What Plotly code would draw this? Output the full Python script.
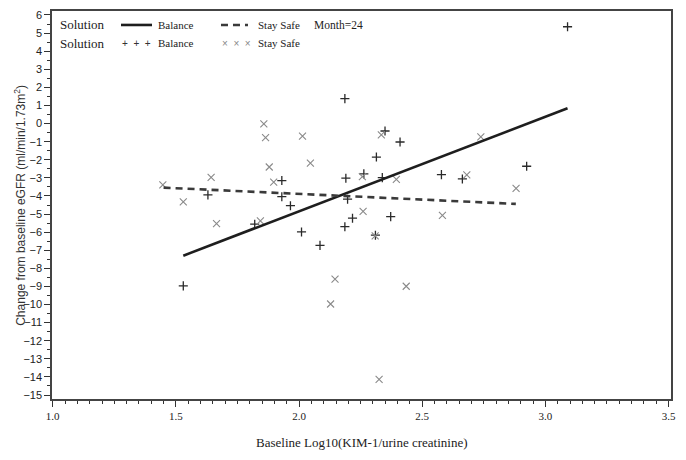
import plotly.graph_objects as go

# Balance group (+ markers)
bal_x = [1.53, 1.63, 1.82, 1.93, 1.93, 1.965, 2.01, 2.085, 2.186, 2.19, 2.263, 2.314,
         2.349, 2.41, 2.197, 2.217, 2.372, 2.186, 2.31, 2.578, 2.663, 2.924, 3.09, 2.338]
bal_y = [-8.97, -3.94, -5.56, -3.15, -4.04, -4.54, -5.99, -6.73, 1.38, -3.02, -2.78, -1.85,
         -0.41, -1.02, -4.18, -5.23, -5.14, -5.70, -6.17, -2.82, -3.06, -2.36, 5.35, -2.99]

# Stay Safe group (x markers)
safe_x = [1.447, 1.53, 1.643, 1.665, 1.843, 1.857, 1.864, 1.879, 1.897, 2.014, 2.046, 2.128,
          2.146, 2.257, 2.260, 2.309, 2.325, 2.334, 2.395, 2.435, 2.582, 2.681, 2.738, 2.881]
safe_y = [-3.39, -4.33, -2.97, -5.53, -5.38, -0.02, -0.78, -2.40, -3.23, -0.69, -2.19, -9.97,
          -8.6, -2.93, -4.85, -6.21, -14.13, -0.63, -3.08, -8.99, -5.07, -2.84, -0.74, -3.58]

# fitted regression lines (end points)
bal_fit_x = [1.53, 3.09]
bal_fit_y = [-7.30, 0.85]
safe_fit_x = [1.45, 2.88]
safe_fit_y = [-3.54, -4.44]

x_ticks = [1.0, 1.5, 2.0, 2.5, 3.0, 3.5]
y_ticks = list(range(-15, 7))

fig = go.Figure()

fig.add_trace(go.Scatter(x=bal_x, y=bal_y, mode='markers',
                         marker=dict(symbol='cross-thin', size=6.5,
                                     line=dict(color='#2a2a2a', width=1.3))))
fig.add_trace(go.Scatter(x=safe_x, y=safe_y, mode='markers',
                         marker=dict(symbol='x-thin', size=7,
                                     line=dict(color='#8a8a8a', width=1.1))))
fig.add_trace(go.Scatter(x=bal_fit_x, y=bal_fit_y, mode='lines',
                         line=dict(color='#1e1e1e', width=2.6)))
fig.add_trace(go.Scatter(x=safe_fit_x, y=safe_fit_y, mode='lines',
                         line=dict(color='#3a3a3a', width=2.6, dash='7px,5px')))

serif = 'Liberation Serif'
sans = 'Liberation Sans'

fig.update_layout(
    width=686, height=460,
    margin=dict(l=52, r=15, t=11, b=61),
    plot_bgcolor='white', paper_bgcolor='white',
    showlegend=False,
    xaxis=dict(range=[0.997, 3.51], tickvals=x_ticks, automargin=False,
               ticktext=[f'{v:.1f}' for v in x_ticks],
               ticks='outside', ticklen=6, tickwidth=1.2, tickcolor='#333',
               minor=dict(dtick=0.05, ticks='outside', ticklen=3, tickcolor='#333'),
               showgrid=False, zeroline=False,
               showline=True, linecolor='#444', linewidth=1.5, mirror=True,
               tickfont=dict(family=serif, size=11, color='#222')),
    yaxis=dict(range=[-15.22, 6.22], tickvals=y_ticks, automargin=False,
               ticks='outside', ticklen=6, tickwidth=1.2, tickcolor='#333',
               minor=dict(dtick=0.5, ticks='outside', ticklen=3, tickcolor='#333'),
               showgrid=False, zeroline=False,
               showline=True, linecolor='#444', linewidth=1.5, mirror=True,
               tickfont=dict(family=sans, size=11, color='#222')),
)

# axis titles
fig.add_annotation(text='Change from baseline eGFR (ml/min/1.73m<sup>2</sup>)',
                   xref='paper', yref='paper', x=-0.052, y=0.5, textangle=-90,
                   xanchor='center', yanchor='middle',
                   showarrow=False, font=dict(family=sans, size=12, color='#333'))
fig.add_annotation(text='Baseline Log10(KIM-1/urine creatinine)',
                   xref='paper', yref='paper', x=0.5, y=-0.113, showarrow=False,
                   xanchor='center', yanchor='middle',
                   font=dict(family=serif, size=13, color='#222'))

# legend block (two rows, SAS style)
row1, row2 = 0.964, 0.9175
def txt(s, x, y, size, family=serif, color='#222'):
    fig.add_annotation(text=s, xref='paper', yref='paper', x=x, y=y,
                       xanchor='left', yanchor='middle', showarrow=False,
                       font=dict(family=family, size=size, color=color))

txt('Solution', 0.010, row1, 13)
txt('Balance', 0.168, row1, 11)
txt('Stay Safe', 0.330, row1, 11)
txt('Month=24', 0.420, row1, 11.5)
txt('Solution', 0.010, row2, 13)
txt('Balance', 0.168, row2, 11)
txt('Stay Safe', 0.330, row2, 11)
txt('+  +  +', 0.110, row2, 10, sans, '#333')
txt('×  ×  ×', 0.272, row2, 10, sans, '#888')
fig.add_shape(type='line', xref='paper', yref='paper', x0=0.1115, x1=0.1616,
              y0=row1, y1=row1, line=dict(color='#1e1e1e', width=2.6))
fig.add_shape(type='line', xref='paper', yref='paper', x0=0.273, x1=0.3166,
              y0=row1, y1=row1, line=dict(color='#3a3a3a', width=2.6, dash='7px,5px'))

fig.write_html('out.html', config={'displayModeBar': False},
               post_script="document.body.style.margin='0';document.body.style.overflow='hidden';")
